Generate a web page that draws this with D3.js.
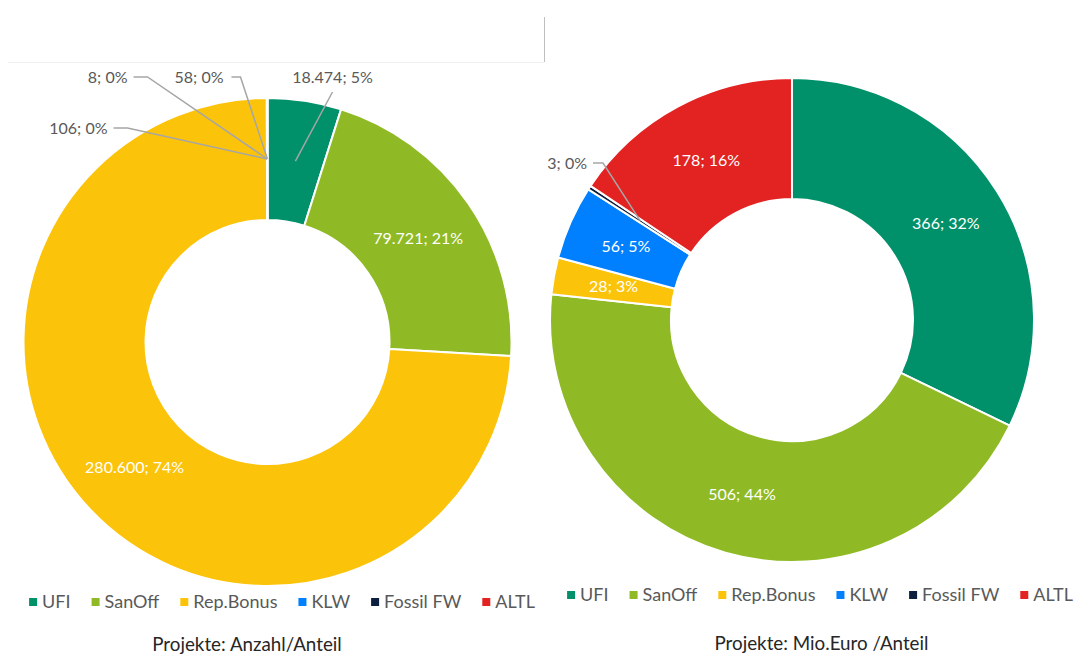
<!DOCTYPE html>
<html>
<head>
<meta charset="utf-8">
<script src="https://cdn.jsdelivr.net/npm/d3@7/dist/d3.min.js"></script>
<style>
  html, body { margin: 0; padding: 0; background: #ffffff; }
  svg { display: block; font-family: Lato, "Open Sans", sans-serif; }
</style>
</head>
<body>
<svg id="chart" width="1079" height="664"></svg>
<script>
// ---- data ----
const categories = ["UFI", "SanOff", "Rep.Bonus", "KLW", "Fossil FW", "ALTL"];
const colors = ["#00916a", "#8fba25", "#fcc30b", "#0080ff", "#0c1f3f", "#e32222"];
const anzahlValues = [18474, 79721, 280600, 106, 8, 58];
const anzahlPct = [5, 21, 74, 0, 0, 0];
const euroValues = [366, 506, 28, 56, 3, 178];
const euroPct = [32, 44, 3, 5, 0, 16];
const titles = ["Projekte: Anzahl/Anteil", "Projekte: Mio.Euro /Anteil"];

const de = d3.formatLocale({decimal: ",", thousands: ".", grouping: [3], currency: ["", "€"]});
const fmt = de.format(",d");

const svg = d3.select("#chart");

// faint frame lines of the left chart area
svg.append("line").attr("x1", 8).attr("x2", 544).attr("y1", 62.5).attr("y2", 62.5)
  .attr("stroke", "#f0f0f0").attr("stroke-width", 1);
svg.append("line").attr("x1", 544.5).attr("x2", 544.5).attr("y1", 17).attr("y2", 62)
  .attr("stroke", "#bfbfbf").attr("stroke-width", 1);

// layout for outside labels (offsets from donut centre)
const charts = [
  {
    values: anzahlValues, pct: anzahlPct, title: titles[0],
    cx: 267.5, cy: 342, rOut: 244, rIn: 122,
    inside: [false, true, true, false, false, false],
    outside: {
      0: {tx: 65, ty: -265, anchor: "middle", lead: [[65, -250]]},
      3: {tx: -160, ty: -214, anchor: "end", lead: [[-154, -214], [-140, -214]]},
      4: {tx: -140, ty: -265, anchor: "end", lead: [[-134, -265], [-120, -265]]},
      5: {tx: -44, ty: -265, anchor: "end", lead: [[-36, -265], [-27, -265]]}
    },
    legendCx: 282, legendY: 602, titleX: 247, titleY: 644
  },
  {
    values: euroValues, pct: euroPct, title: titles[1],
    cx: 792, cy: 320, rOut: 242, rIn: 121,
    inside: [true, true, true, true, false, true],
    outside: {
      4: {tx: -205, ty: -157, anchor: "end", lead: [[-199, -157], [-189, -157]]}
    },
    legendCx: 820, legendY: 595, titleX: 821.5, titleY: 643.5
  }
];

charts.forEach(c => {
  const data = categories.map((k, i) => ({key: k, value: c.values[i], pct: c.pct[i], i}));
  const pie = d3.pie().value(d => d.value).sort(null);
  const arc = d3.arc().innerRadius(c.rIn).outerRadius(c.rOut);
  const arcs = pie(data);

  const g = svg.append("g").attr("transform", `translate(${c.cx},${c.cy})`);
  g.selectAll("path.slice").data(arcs).join("path")
    .attr("class", "slice")
    .attr("d", arc)
    .attr("fill", d => colors[d.data.i])
    .attr("stroke", "#ffffff")
    .attr("stroke-width", 2)
    .attr("stroke-linejoin", "round");

  const labelText = d => `${fmt(d.data.value)}; ${d.data.pct}%`;

  // inside labels
  g.selectAll("text.in").data(arcs.filter(d => c.inside[d.data.i])).join("text")
    .attr("class", "in")
    .attr("transform", d => `translate(${arc.centroid(d)})`)
    .attr("text-anchor", "middle")
    .attr("dy", "0.35em")
    .attr("fill", "#ffffff")
    .attr("font-size", 16)
    .text(labelText);

  // outside labels with leader lines
  arcs.filter(d => c.outside[d.data.i]).forEach(d => {
    const o = c.outside[d.data.i];
    const pts = o.lead.concat([arc.centroid(d)]);
    g.append("path")
      .attr("d", d3.line()(pts))
      .attr("fill", "none")
      .attr("stroke", "#a6a6a6")
      .attr("stroke-width", 1.5);
    g.append("text")
      .attr("x", o.tx).attr("y", o.ty)
      .attr("dy", "0.35em")
      .attr("text-anchor", o.anchor)
      .attr("fill", "#595959")
      .attr("font-size", 16)
      .text(labelText(d));
  });

  // legend
  const lg = svg.append("g");
  const items = lg.selectAll("g").data(categories).join("g");
  items.append("rect")
    .attr("width", 8).attr("height", 8)
    .attr("y", -4)
    .attr("fill", (d, i) => colors[i]);
  items.append("text")
    .attr("x", 13).attr("dy", "0.35em")
    .attr("fill", "#595959")
    .attr("font-size", 18)
    .text(d => d);
  let x = 0;
  const gap = 21;
  items.each(function() {
    const w = 13 + d3.select(this).select("text").node().getComputedTextLength();
    d3.select(this).attr("transform", `translate(${x},0)`);
    x += w + gap;
  });
  const total = x - gap;
  lg.attr("transform", `translate(${c.legendCx - total / 2},${c.legendY})`);

  // title
  svg.append("text")
    .attr("x", c.titleX).attr("y", c.titleY)
    .attr("dy", "0.35em")
    .attr("text-anchor", "middle")
    .attr("fill", "#262626")
    .attr("font-size", 18.8)
    .text(c.title);
});
</script>
</body>
</html>
